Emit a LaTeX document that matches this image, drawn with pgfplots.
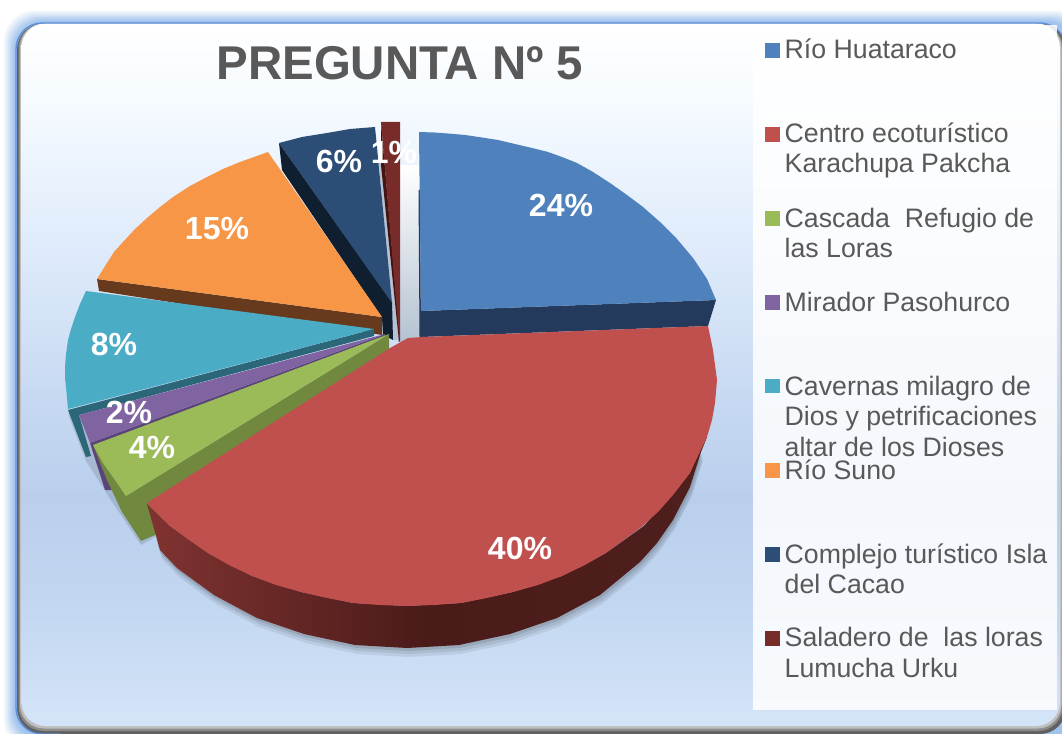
\documentclass[border=0pt]{standalone}
\usepackage{pgfplots}
\pgfplotsset{compat=1.18}
\usepackage{fontspec}
\setmainfont{Liberation Sans}
\definecolor{cBlue}{HTML}{4F81BD}\definecolor{cBlueS}{HTML}{243A5C}
\definecolor{cRed}{HTML}{C0504D}\definecolor{cRedA}{HTML}{803331}\definecolor{cRedB}{HTML}{4A1B19}\definecolor{cRedC}{HTML}{4F1F1D}
\definecolor{cGreen}{HTML}{9BBB59}\definecolor{cGreenS}{HTML}{71893F}
\definecolor{cPurple}{HTML}{8064A2}\definecolor{cPurpleS}{HTML}{5A4478}
\definecolor{cTeal}{HTML}{4BACC6}\definecolor{cTealS}{HTML}{2C6779}
\definecolor{cOrange}{HTML}{F79646}\definecolor{cOrangeS}{HTML}{673A1D}
\definecolor{cNavy}{HTML}{2C4D75}\definecolor{cNavyS}{HTML}{0F1F30}
\definecolor{cDark}{HTML}{772C2A}\definecolor{cDarkS}{HTML}{451412}
\definecolor{cGap}{HTML}{B4C2D2}
\definecolor{cText}{HTML}{595959}
\definecolor{cGlow}{HTML}{8DB6EC}\definecolor{cLine}{HTML}{5B90DB}
\definecolor{bgA}{HTML}{FFFFFF}\definecolor{bgB}{HTML}{F6FBFF}\definecolor{bgC}{HTML}{DFEBFB}
\definecolor{bgD}{HTML}{C7D9F2}\definecolor{bgE}{HTML}{B9CFEC}\definecolor{bgF}{HTML}{C1D6F0}\definecolor{bgG}{HTML}{D3E3F8}
\pgfdeclareverticalshading{bgshade}{100bp}{color(0bp)=(bgG); color(25.7bp)=(bgG); color(34.2bp)=(bgF); color(41.3bp)=(bgE); color(48.4bp)=(bgD); color(59bp)=(bgC); color(69.7bp)=(bgB); color(75bp)=(bgA); color(100bp)=(bgA)}
\begin{document}
\begin{tikzpicture}[x=1pt,y=1pt]
\path[use as bounding box] (0,0) rectangle (1062,733);
\fill[white] (0,0) rectangle (1062,733);
% glow
\foreach \m/\o in {12/.12,10/.15,8/.20,6/.25,4/.30,2/.40}{
  \fill[cGlow,opacity=\o,rounded corners=30pt] (16-\m,-5-\m) rectangle (1075+\m,710+\m);
}
% inner edge shadow
\fill[rounded corners=26pt,black!62] (17,-1) rectangle (1066,709.5);
\fill[rounded corners=25pt,black!45] (18.5,2) rectangle (1063,709.5);
\fill[rounded corners=24pt,black!25] (20,4.5) rectangle (1061.5,709.5);
\shade[shading=bgshade,rounded corners=24pt] (21.5,7) rectangle (1060,709.5);
\draw[rounded corners=26pt,draw=cLine,line width=1.3pt] (60,-1) -- (16,-1) -- (16,710) -- (1066,710) -- (1066,-1);
% legend panel
\fill[white,opacity=.85] (753,23) rectangle (1057,708);
\begin{axis}[at={(0,0)},anchor=south west,width=1062pt,height=733pt,scale only axis,hide axis,
  xmin=0,xmax=1062,ymin=0,ymax=733,y dir=reverse,clip=false]
% drop shadows
\addplot[fill=black,opacity=.07,draw=none,yshift=-9pt,xshift=2pt] coordinates {(155,535)(160,550)(177,568)(214,595)(257,618)(304,634)(355,645)(407,648)(459,645)(510,634)(557,618)(600,595)(640,562)(657,543)(673,520)(690,487)(701,452)(600,400)(300,400)};
\addplot[fill=black,opacity=.08,draw=none,yshift=-6pt,xshift=2pt] coordinates {(155,535)(160,550)(177,568)(214,595)(257,618)(304,634)(355,645)(407,648)(459,645)(510,634)(557,618)(600,595)(640,562)(657,543)(673,520)(690,487)(701,452)(600,400)(300,400)};
\addplot[fill=black,opacity=.10,draw=none,yshift=-3pt,xshift=1pt] coordinates {(155,535)(160,550)(177,568)(214,595)(257,618)(304,634)(355,645)(407,648)(459,645)(510,634)(557,618)(600,595)(640,562)(657,543)(673,520)(690,487)(701,452)(600,400)(300,400)};
\addplot[fill=black,opacity=.12,draw=none,yshift=-4pt] coordinates {(68,410)(86,457)(107,490)(141,541)(155,533)(200,450)};
% gap shading
\addplot[draw=none,top color=white,bottom color=cGap] coordinates {(398,165)(420,165)(421,340)(398,342)};
\addplot[fill=cGap,draw=none] coordinates {(378,150)(381,150)(399,340)(393,340)};
% Saladero
\addplot[fill=cDarkS,draw=none] coordinates {(381,122)(381,165)(399,342)(400,340)};
\addplot[fill=cDark,draw=none] coordinates {(381,122)(400,122)(400,342)(399,335)};
% Complejo
\addplot[fill=cNavyS,draw=none] coordinates {(279,143)(282,170)(382,318)(383,335)(393,340)(392,302)};
\addplot[fill=cNavy,draw=none] coordinates {(279,143)(302,137)(327,133)(350,129)(375,127)(392,303)};
% Rio Suno
\addplot[fill=cOrangeS,draw=none] coordinates {(97,279)(382,317)(382,335)(99,291)};
\addplot[fill=cOrange,draw=none] coordinates {(268,152)(254,157)(240,162)(223,169)(207,177)(190,186)(173,197)(160,207)(147,218)(135,229)(123,242)(114,252)(107,263)(97,279)(382,317)};
% Cavernas
\addplot[fill=cTealS,draw=none] coordinates {(374,329)(374,336)(79,415)(91,456)(86,457)(68,410)};
\addplot[fill=cTeal,draw=none] coordinates {(86,291)(80,304)(75,317)(71,329)(68,340)(66,354)(65,367)(65,378)(66,387)(67,398)(68,409)(374,329)};
% Mirador
\addplot[fill=cPurpleS,draw=none] coordinates {(385,334)(90,443)(105,490)(112,490)(385,337)};
\addplot[fill=cPurple,draw=none] coordinates {(385,334)(79,415)(90,443)};
% Cascada
\addplot[fill=cGreenS,draw=none] coordinates {(389,334)(389,350)(155,535)(141,541)(122,512)(107,480)(93,445)(126,496)};
\addplot[fill=cGreen,draw=none] coordinates {(389,334)(126,496)(115,480)(103,463)(93,445)};
% Rio Huataraco
\addplot[fill=cBlueS,draw=none] coordinates {(418.5,190)(420,190)(421,337)(419.5,337)};
\addplot[fill=cBlueS,draw=none] coordinates {(421,311)(716,300)(708,326)(421,337)};
\addplot[fill=cBlue,draw=none] coordinates {(421,311)(419,132)(434,132.5)(448,133.5)(465,135)(482,137.5)(498,140)(515,144)(532,148)(548,152)(562,157)(577,163)(593,172)(610,183)(627,195)(643,207)(660,222)(677,239)(693,258)(707,279)(716,300)};
% Centro
\addplot[draw=none,left color=cRedA,right color=cRedC,middle color=cRedB] coordinates {(147,504)(160,550)(177,568)(214,595)(257,618)(304,634)(355,645)(407,648)(459,645)(510,634)(557,618)(600,595)(640,562)(657,543)(673,520)(690,487)(701,452)(707,437)(700,440)(690,473)(644,526)(606,553)(562,576)(513,592)(461,603)(407,606)(353,603)(301,592)(252,576)(208,553)(170,526)};
\addplot[fill=cRed,draw=none] coordinates {(390,348)(408,338)(422,337)(708,326)(713,350)(717,380)(715,403)(712,420)(707,437)(697,458)(690,473)(673,495)(658,512)(640,528)(606,553)(585,565)(562,576)(538,585)(513,592)(487,598)(461,603)(434,605)(407,606)(380,605)(353,603)(327,598)(301,592)(276,585)(252,576)(229,565)(208,553)(189,540)(170,526)(147,503)};
% labels
\begin{scope}[every node/.style={anchor=base,text=white,font=\fontsize{32}{32}\selectfont\bfseries}]
\node at (axis cs:561,216) {24\%};
\node at (axis cs:520,559) {40\%};
\node at (axis cs:217,239) {15\%};
\node at (axis cs:339,173) {6\%};
\node at (axis cs:394,164) {1\%};
\node at (axis cs:114,355) {8\%};
\node at (axis cs:129,423) {2\%};
\node at (axis cs:152,458) {4\%};
\end{scope}
\node[anchor=base,text=cText,font=\fontsize{47.4}{47.4}\selectfont\bfseries] at (axis cs:400,80) {PREGUNTA Nº 5};
% legend swatches
\fill[cBlue] (axis cs:765,43) rectangle (axis cs:780,58);
\fill[cRed] (axis cs:765,127) rectangle (axis cs:780,142);
\fill[cGreen] (axis cs:765,211) rectangle (axis cs:780,226);
\fill[cPurple] (axis cs:765,295) rectangle (axis cs:780,310);
\fill[cTeal] (axis cs:765,379) rectangle (axis cs:780,393);
\fill[cOrange] (axis cs:765,463) rectangle (axis cs:780,478);
\fill[cNavy] (axis cs:765,547) rectangle (axis cs:780,562);
\fill[cDark] (axis cs:765,631) rectangle (axis cs:780,646);
\begin{scope}[every node/.style={anchor=base west,inner sep=0pt,text=cText,font=\fontsize{26.7}{26.7}\selectfont}]
\node at (axis cs:784.5,59) {Río Huataraco};
\node at (axis cs:784.5,143) {Centro ecoturístico};
\node at (axis cs:784.5,173) {Karachupa Pakcha};
\node at (axis cs:784.5,227) {Cascada\ \ Refugio de};
\node at (axis cs:784.5,257) {las Loras};
\node at (axis cs:784.5,311) {Mirador Pasohurco};
\node at (axis cs:784.5,395) {Cavernas milagro de};
\node at (axis cs:784.5,425) {Dios y petrificaciones};
\node at (axis cs:784.5,456) {altar de los Dioses};
\node at (axis cs:784.5,479) {Río Suno};
\node at (axis cs:784.5,563) {Complejo turístico Isla};
\node at (axis cs:784.5,593) {del Cacao};
\node at (axis cs:784.5,646) {Saladero de\ \ las loras};
\node at (axis cs:784.5,677) {Lumucha Urku};
\end{scope}
\end{axis}
\end{tikzpicture}
\end{document}
